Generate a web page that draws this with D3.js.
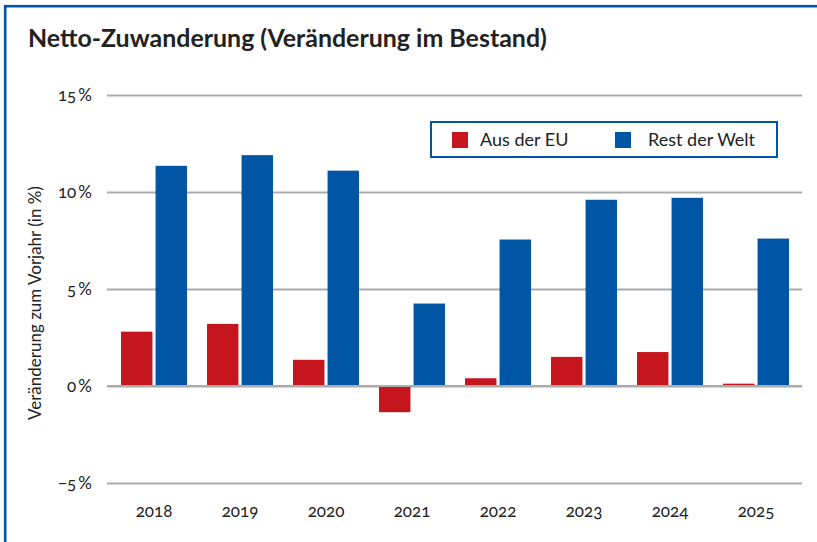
<!DOCTYPE html>
<html>
    <head>
        <meta charset="utf-8">
        <title>Netto-Zuwanderung</title>
        <script src="https://cdn.jsdelivr.net/npm/d3@7/dist/d3.min.js"></script>
        <style>
            body { margin: 0; background: #fff; }
            svg text { font-family: Lato, "Noto Sans", sans-serif; fill: #222; font-variant-numeric: oldstyle-nums; }
        </style>
    </head>

    <body>
        <svg width="817" height="542" id="mainsvg"></svg>
        <script>
            // Daten
            const years = ['2018', '2019', '2020', '2021', '2022', '2023', '2024', '2025'];
            const seriesNames = ['Aus der EU', 'Rest der Welt'];
            const ausDerEU = [2.8, 3.2, 1.35, -1.35, 0.4, 1.5, 1.75, 0.12];
            const restDerWelt = [11.35, 11.9, 11.1, 4.25, 7.55, 9.6, 9.7, 7.6];
            const yTicks = [-5, 0, 5, 10, 15];
            const colors = ['#c5161d', '#0055a5'];

            const svg = d3.select('svg');

            // Rahmen oben/links
            svg.append('rect')
                .attr('x', 5.2).attr('y', 6.2)
                .attr('width', 900).attr('height', 700)
                .attr('fill', 'none')
                .attr('stroke', '#0055a5')
                .attr('stroke-width', 2.6);

            // Titel
            const title = svg.append('text')
                .attr('x', 28).attr('y', 47)
                .style('font-size', '24px')
                .style('font-weight', 'bold')
                .style('font-variant-numeric', 'normal')
                .text('Netto-Zuwanderung (Veränderung im Bestand)');
            const tw = title.node().getComputedTextLength();
            title.style('font-size', (24 * 519 / tw) + 'px');

            const xScale = d3.scaleBand()
                .domain(years)
                .range([111, 799])
                .paddingInner(0.233)
                .paddingOuter(0.1165);
            const xSub = d3.scaleBand()
                .domain(seriesNames)
                .range([0, xScale.bandwidth()])
                .paddingInner(0.09);
            const yScale = d3.scaleLinear()
                .domain([-5, 15])
                .range([483, 95]);

            // Gitterlinien + y-Achse
            const yAxis = d3.axisLeft(yScale)
                .tickValues(yTicks)
                .tickSize(-(802 - 107))
                .tickPadding(14)
                .tickFormat(d => (d < 0 ? '\u2212' + Math.abs(d) : d) + '\u2009%');
            const yAxisGroup = svg.append('g')
                .attr('transform', 'translate(107,0)')
                .call(yAxis);
            yAxisGroup.select('.domain').remove();
            yAxisGroup.selectAll('line')
                .attr('stroke', '#ababab')
                .attr('stroke-width', 2);
            yAxisGroup.selectAll('text')
                .attr('x', -15)
                .style('font-size', '17px');

            // Balken
            const table = years.map((y, i) => ({year: y, values: [ausDerEU[i], restDerWelt[i]]}));
            const groups = svg.selectAll('.group')
                .data(table)
                .join('g')
                .attr('class', 'group')
                .attr('transform', d => `translate(${xScale(d.year)},0)`);
            groups.selectAll('rect')
                .data(d => d.values.map((v, j) => ({name: seriesNames[j], value: v, color: colors[j]})))
                .join('rect')
                .attr('x', d => xSub(d.name))
                .attr('width', xSub.bandwidth())
                .attr('y', d => yScale(Math.max(0, d.value)))
                .attr('height', d => Math.abs(yScale(d.value) - yScale(0)))
                .attr('fill', d => d.color);

            // Nulllinie nochmal oben drauf
            svg.append('line')
                .attr('x1', 107).attr('x2', 802)
                .attr('y1', yScale(0)).attr('y2', yScale(0))
                .attr('stroke', '#ababab')
                .attr('stroke-width', 2);

            // x-Achse (nur Beschriftung)
            const xAxisGroup = svg.append('g')
                .attr('transform', 'translate(0,483)')
                .call(d3.axisBottom(xScale).tickSize(0).tickPadding(22));
            xAxisGroup.select('.domain').remove();
            xAxisGroup.selectAll('text').style('font-size', '17px');

            // y-Achsentitel
            svg.append('text')
                .attr('transform', 'translate(41,303) rotate(-90)')
                .attr('text-anchor', 'middle')
                .style('font-size', '17px')
                .style('font-variant-numeric', 'normal')
                .text('Veränderung zum Vorjahr (in %)');

            // Legende
            const legendBox = svg.append('g').attr('transform', 'translate(431,122)');
            legendBox.append('rect')
                .attr('width', 346).attr('height', 35)
                .attr('fill', '#fff')
                .attr('stroke', '#0055a5')
                .attr('stroke-width', 2);
            const legend = legendBox.selectAll('.legend')
                .data(seriesNames)
                .join('g')
                .attr('class', 'legend')
                .attr('transform', (d, i) => `translate(${i === 0 ? 21 : 184},10)`);
            legend.append('rect')
                .attr('width', 16).attr('height', 16)
                .attr('fill', (d, i) => colors[i]);
            legend.append('text')
                .attr('x', i => 0)
                .attr('x', (d, i) => i === 0 ? 28 : 33)
                .attr('y', 14)
                .style('font-size', '18px')
                .text(d => d);
        </script>
    </body>
</html>
